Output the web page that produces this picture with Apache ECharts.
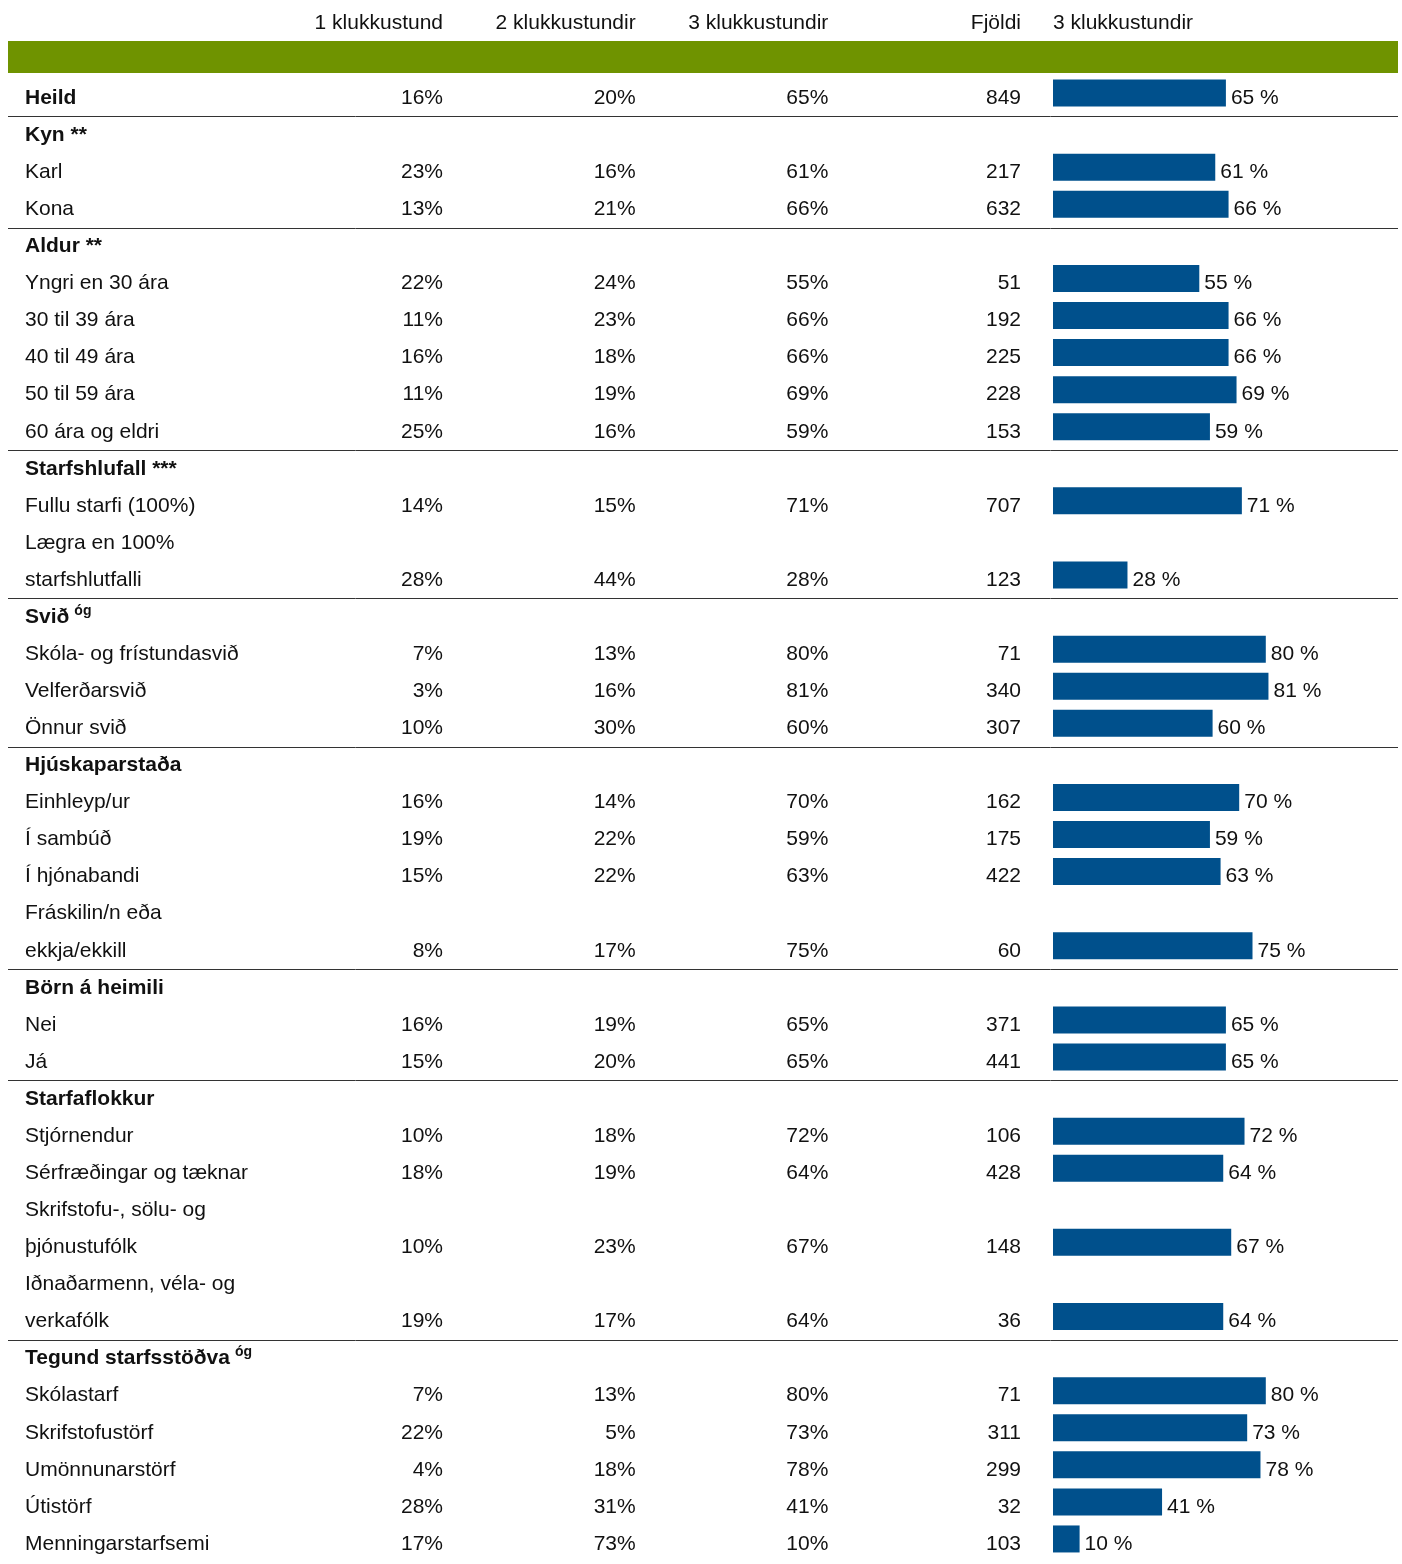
<!DOCTYPE html>
<html>
<head>
<meta charset="utf-8">
<script src="https://cdn.jsdelivr.net/npm/echarts@6/dist/echarts.min.js"></script>
<style>
html,body{margin:0;padding:0;background:#fff;}
#chart{width:1402px;height:1564px;}
</style>
</head>
<body>
<div id="chart"></div>
<script>
// ---- data ----
var rowNames = [
  'Heild', 'Kyn **', 'Karl', 'Kona', 'Aldur **', 'Yngri en 30 ára', '30 til 39 ára', '40 til 49 ára',
  '50 til 59 ára', '60 ára og eldri', 'Starfshlufall ***', 'Fullu starfi (100%)', 'Lægra en 100%',
  'starfshlutfalli', 'Svið', 'Skóla- og frístundasvið', 'Velferðarsvið', 'Önnur svið', 'Hjúskaparstaða',
  'Einhleyp/ur', 'Í sambúð', 'Í hjónabandi', 'Fráskilin/n eða', 'ekkja/ekkill', 'Börn á heimili',
  'Nei', 'Já', 'Starfaflokkur', 'Stjórnendur', 'Sérfræðingar og tæknar', 'Skrifstofu-, sölu- og',
  'þjónustufólk', 'Iðnaðarmenn, véla- og', 'verkafólk', 'Tegund starfsstöðva', 'Skólastarf',
  'Skrifstofustörf', 'Umönnunarstörf', 'Útistörf', 'Menningarstarfsemi'
];
// 1 = bold group header
var rowBold = [1,1,0,0,1,0,0,0,0,0,1,0,0,0,1,0,0,0,1,0,0,0,0,0,1,0,0,1,0,0,0,0,0,0,1,0,0,0,0,0];
// superscript marks
var rowSup = {14: 'óg', 34: 'óg'};
// rows that begin a new group (separator line above)
var groupStarts = [1, 4, 10, 14, 18, 24, 27, 34];

var columnHeaders = ['1 klukkustund', '2 klukkustundir', '3 klukkustundir', 'Fjöldi'];
var barHeader = '3 klukkustundir';

var oneHour = [16,null,23,13,null,22,11,16,11,25,null,14,null,28,null,7,3,10,null,16,19,15,null,8,null,16,15,null,10,18,null,10,null,19,null,7,22,4,28,17];
var twoHours = [20,null,16,21,null,24,23,18,19,16,null,15,null,44,null,13,16,30,null,14,22,22,null,17,null,19,20,null,18,19,null,23,null,17,null,13,5,18,31,73];
var threeHours = [65,null,61,66,null,55,66,66,69,59,null,71,null,28,null,80,81,60,null,70,59,63,null,75,null,65,65,null,72,64,null,67,null,64,null,80,73,78,41,10];
var counts = [849,null,217,632,null,51,192,225,228,153,null,707,null,123,null,71,340,307,null,162,175,422,null,60,null,371,441,null,106,428,null,148,null,36,null,71,311,299,32,103];

// ---- layout ----
var FONT = "'Liberation Sans Narrow','Arial Narrow','Liberation Sans',Arial,sans-serif";
var FS = 21;
var TOP = 79.5, BOTTOM = 1.5;
var TXT = '#111';

var rowIdx = rowNames.map(function (_, i) { return i; });

function colData(arr, col, suffix) {
  var out = [];
  arr.forEach(function (v, i) {
    if (v !== null) out.push({ value: [col, i], label: { formatter: v + suffix } });
  });
  return out;
}

function colSeries(arr, col, suffix) {
  return {
    type: 'scatter', xAxisIndex: 1, yAxisIndex: 1, symbolSize: 0, silent: true,
    itemStyle: { opacity: 1 },
    data: colData(arr, col, suffix),
    label: { show: true, position: 'left', distance: 0, color: TXT, fontFamily: FONT, fontSize: FS, verticalAlign: 'middle' }
  };
}

var chart = echarts.init(document.getElementById('chart'), null, { renderer: 'canvas' });

var option = {
  animation: false,
  backgroundColor: '#fff',
  graphic: [{
    type: 'rect', left: 8, top: 41, shape: { width: 1390, height: 32 },
    style: { fill: '#6f9300' }, silent: true
  }],
  grid: [
    { left: 8, right: 4, top: TOP, bottom: BOTTOM },
    { left: 443, right: 381, top: TOP, bottom: BOTTOM },
    { left: 1053, right: 83, top: TOP - 5, bottom: BOTTOM + 5 }
  ],
  xAxis: [
    { gridIndex: 0, type: 'value', show: false, min: 0, max: 1 },
    {
      gridIndex: 1, type: 'category', boundaryGap: false, data: columnHeaders, position: 'top',
      axisLine: { show: false }, axisTick: { show: false },
      axisLabel: { align: 'right', margin: 46, color: TXT, fontFamily: FONT, fontSize: FS, interval: 0 }
    },
    {
      gridIndex: 2, type: 'value', min: 0, max: 100, interval: 100, position: 'top',
      axisLine: { show: false }, axisTick: { show: false }, splitLine: { show: false },
      axisLabel: {
        align: 'left', margin: 41, color: TXT, fontFamily: FONT, fontSize: FS,
        formatter: function (v) { return v === 0 ? barHeader : ''; }
      }
    }
  ],
  yAxis: [
    {
      gridIndex: 0, type: 'category', inverse: true, data: rowIdx,
      axisLine: { show: false }, axisTick: { show: false }, splitLine: { show: false },
      axisLabel: {
        inside: true, margin: 17, interval: 0, align: 'left', verticalAlign: 'middle',
        formatter: function (v) {
          var i = +v;
          var name = rowNames[i];
          var s = rowBold[i] ? '{b|' + name + '}' : '{n|' + name + '}';
          if (rowSup[i]) s += '{sup|' + rowSup[i] + '}';
          return s;
        },
        rich: {
          n: { fontFamily: FONT, fontSize: FS, color: TXT },
          b: { fontFamily: FONT, fontSize: FS, color: TXT, fontWeight: 'bold' },
          sup: { fontFamily: FONT, fontSize: 14, color: TXT, fontWeight: 'bold', padding: [0, 0, 12, 5] }
        }
      }
    },
    { gridIndex: 1, type: 'category', inverse: true, data: rowIdx, show: false },
    { gridIndex: 2, type: 'category', inverse: true, data: rowIdx, show: false },
    // row-boundary scale for the group separator rules
    { gridIndex: 0, type: 'value', inverse: true, min: 0, max: rowNames.length, show: false, splitLine: { show: false } }
  ],
  series: [
    colSeries(oneHour, 0, '%'),
    colSeries(twoHours, 1, '%'),
    colSeries(threeHours, 2, '%'),
    colSeries(counts, 3, ''),
    {
      type: 'bar', xAxisIndex: 2, yAxisIndex: 2, barWidth: 27, silent: true,
      data: threeHours,
      itemStyle: { color: '#00508c' },
      label: {
        show: true, position: 'right', distance: 5, color: TXT, fontFamily: FONT, fontSize: FS,
        offset: [0, 5],
        formatter: function (p) { return p.value + ' %'; }
      }
    },
    {
      type: 'scatter', xAxisIndex: 0, yAxisIndex: 3, symbolSize: 0, silent: true,
      data: [[0, 0]],
      markLine: {
        silent: true, symbol: 'none', label: { show: false },
        lineStyle: { color: '#333', width: 1, type: 'solid' },
        data: groupStarts.map(function (g) { return { yAxis: g }; })
      }
    }
  ]
};
chart.setOption(option);
</script>
</body>
</html>
